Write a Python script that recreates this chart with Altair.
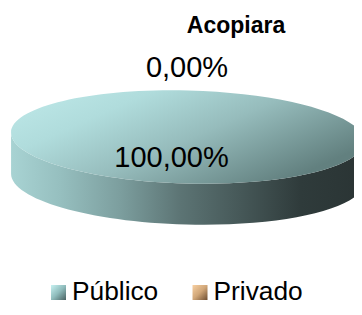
import altair as alt
import pandas as pd
import math

categories = ["Público", "Privado"]
values = [100.0, 0.0]
title_text = "Acopiara"

def fmt(v):
    return f"{v:.2f}".replace(".", ",") + "%"

df = pd.DataFrame({"cat": categories, "value": values, "label": [fmt(v) for v in values]})

# geometry of the 3D disc (pixels, relative to its centre)
A, B, T, TILT = 176.5, 46.5, 41, 1.5
ex = A * math.cos(math.radians(TILT))
ey = A * math.sin(math.radians(TILT))
top_path = (f"M {-ex:.2f} {-ey:.2f} A {A} {B} {TILT} 0 1 {ex:.2f} {ey:.2f} "
            f"A {A} {B} {TILT} 0 1 {-ex:.2f} {-ey:.2f} Z")
side_path = (f"M {-ex:.2f} {-ey:.2f} L {-ex:.2f} {T - ey:.2f} "
             f"A {A} {B} {TILT} 0 0 {ex:.2f} {T + ey:.2f} L {ex:.2f} {ey:.2f} "
             f"A {A} {B} {TILT} 0 1 {-ex:.2f} {-ey:.2f} Z")

CX, CY = 179.5, 129

side_grad = alt.Gradient(
    gradient="linear", x1=0, y1=0, x2=1, y2=0,
    stops=[alt.GradientStop(color="#a8d3d3", offset=0),
           alt.GradientStop(color="#96bfbf", offset=0.14),
           alt.GradientStop(color="#7c9e9e", offset=0.31),
           alt.GradientStop(color="#5c7474", offset=0.48),
           alt.GradientStop(color="#465858", offset=0.65),
           alt.GradientStop(color="#2f3b3b", offset=0.82),
           alt.GradientStop(color="#2a3434", offset=1)])
top_grad = alt.Gradient(
    gradient="linear", x1=0, y1=0, x2=1, y2=0.6,
    stops=[alt.GradientStop(color="#c0eaea", offset=0),
           alt.GradientStop(color="#b0dcdc", offset=0.3),
           alt.GradientStop(color="#96bcbc", offset=0.6),
           alt.GradientStop(color="#62807f", offset=1)])

base = alt.Chart(df)
pie_data = base.transform_filter("datum.value > 0")

side = pie_data.mark_point(shape=side_path, filled=True, fill=side_grad, strokeWidth=0,
                           opacity=1, size=4).encode(x=alt.value(CX), y=alt.value(CY))
top = pie_data.mark_point(shape=top_path, filled=True, fill=top_grad, strokeWidth=0,
                          opacity=1, size=4).encode(x=alt.value(CX), y=alt.value(CY))

lbl_big = base.transform_filter("datum.value > 0").mark_text(
    font="Liberation Sans", fontSize=29, color="#000000", baseline="alphabetic", align="center"
).encode(text="label:N", x=alt.value(163.5), y=alt.value(159))
lbl_small = base.transform_filter("datum.value <= 0").mark_text(
    font="Liberation Sans", fontSize=29, color="#000000", baseline="alphabetic", align="center"
).encode(text="label:N", x=alt.value(179), y=alt.value(69))

title = alt.Chart(pd.DataFrame({"t": [title_text]})).mark_text(
    font="Liberation Sans", fontSize=23, fontWeight="bold", color="#000000",
    baseline="alphabetic", align="center"
).encode(text="t:N", x=alt.value(228), y=alt.value(25))

leg_grads = {
    "Público": alt.Gradient(gradient="linear", x1=0, y1=0, x2=1, y2=1,
                            stops=[alt.GradientStop(color="#c8f2f2", offset=0),
                                   alt.GradientStop(color="#8fbcbc", offset=0.5),
                                   alt.GradientStop(color="#4a6262", offset=1)]),
    "Privado": alt.Gradient(gradient="linear", x1=0, y1=0, x2=1, y2=1,
                            stops=[alt.GradientStop(color="#f8d0a2", offset=0),
                                   alt.GradientStop(color="#d0a678", offset=0.5),
                                   alt.GradientStop(color="#6e4e32", offset=1)]),
}
leg_x = {"Público": 50.5, "Privado": 192}
LEG_BASE = 292
legend_layers = []
for c in categories:
    sq = base.transform_filter(alt.datum.cat == c).mark_square(
        filled=True, fill=leg_grads[c], strokeWidth=0, opacity=1, size=225
    ).encode(x=alt.value(leg_x[c]), y=alt.value(LEG_BASE - 7.5))
    tx = base.transform_filter(alt.datum.cat == c).mark_text(
        font="Liberation Sans", fontSize=26.3, color="#000000", baseline="alphabetic", align="left"
    ).encode(text="cat:N", x=alt.value(leg_x[c] + 13.5), y=alt.value(LEG_BASE))
    legend_layers += [sq, tx]

chart = alt.layer(side, top, lbl_big, lbl_small, title, *legend_layers).properties(
    width=346, height=299, padding=0,
    autosize=alt.AutoSizeParams(type="none"),
).configure_view(stroke=None)

chart.save("out.html", embed_options={"renderer": "svg", "actions": False})
